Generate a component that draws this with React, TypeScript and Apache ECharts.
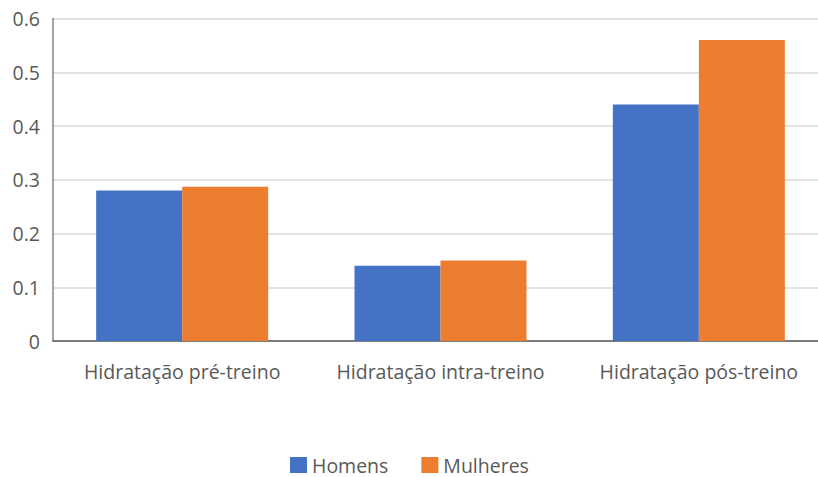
import React, { useEffect, useRef } from "react";
import * as echarts from "echarts";

const categories = ["Hidratação pré-treino", "Hidratação intra-treino", "Hidratação pós-treino"];
const homens = [0.28, 0.14, 0.44];
const mulheres = [0.287, 0.15, 0.56];
const seriesNames = ["Homens", "Mulheres"];

export default function App() {
  const ref = useRef<HTMLDivElement>(null);
  useEffect(() => {
    if (!ref.current) return;
    const chart = echarts.init(ref.current, null, { renderer: "svg" });
    const font = "'Open Sans', 'Noto Sans', sans-serif";
    chart.setOption({
      animation: false,
      grid: { left: 53, right: 0, top: 18.5, bottom: 136, containLabel: false },
      legend: {
        data: seriesNames,
        top: 455,
        left: 290,
        padding: 0,
        itemWidth: 17,
        itemHeight: 16,
        itemGap: 33,
        icon: "rect",
        textStyle: { fontFamily: font, fontSize: 19.5, color: "#595959" },
      },
      xAxis: {
        type: "category",
        data: categories,
        axisTick: { show: false },
        axisLine: { lineStyle: { color: "#595959", width: 1.5 } },
        axisLabel: { fontFamily: font, fontSize: 19.5, color: "#595959", margin: 20, interval: 0 },
      },
      yAxis: {
        type: "value",
        min: 0,
        max: 0.6,
        interval: 0.1,
        axisLine: { show: true, lineStyle: { color: "#868686", width: 1.5 } },
        axisTick: { show: false },
        splitLine: { lineStyle: { color: "#d9d9d9", width: 1.5 } },
        axisLabel: { fontFamily: font, fontSize: 19.5, color: "#595959", margin: 13, formatter: (v: number) => String(Math.round(v * 10) / 10) },
      },
      series: [
        { name: seriesNames[0], type: "bar", data: homens, barWidth: 86, barGap: "0%", itemStyle: { color: "#4472C4" } },
        { name: seriesNames[1], type: "bar", data: mulheres, barWidth: 86, barGap: "0%", itemStyle: { color: "#ED7D31" } },
      ],
    });
    return () => chart.dispose();
  }, []);
  return (
    <div style={{ width: 818, height: 477, position: "absolute", left: 0, top: 0, overflow: "hidden", background: "#fff" }}>
      <div ref={ref} style={{ width: 828, height: 477 }} />
    </div>
  );
}
